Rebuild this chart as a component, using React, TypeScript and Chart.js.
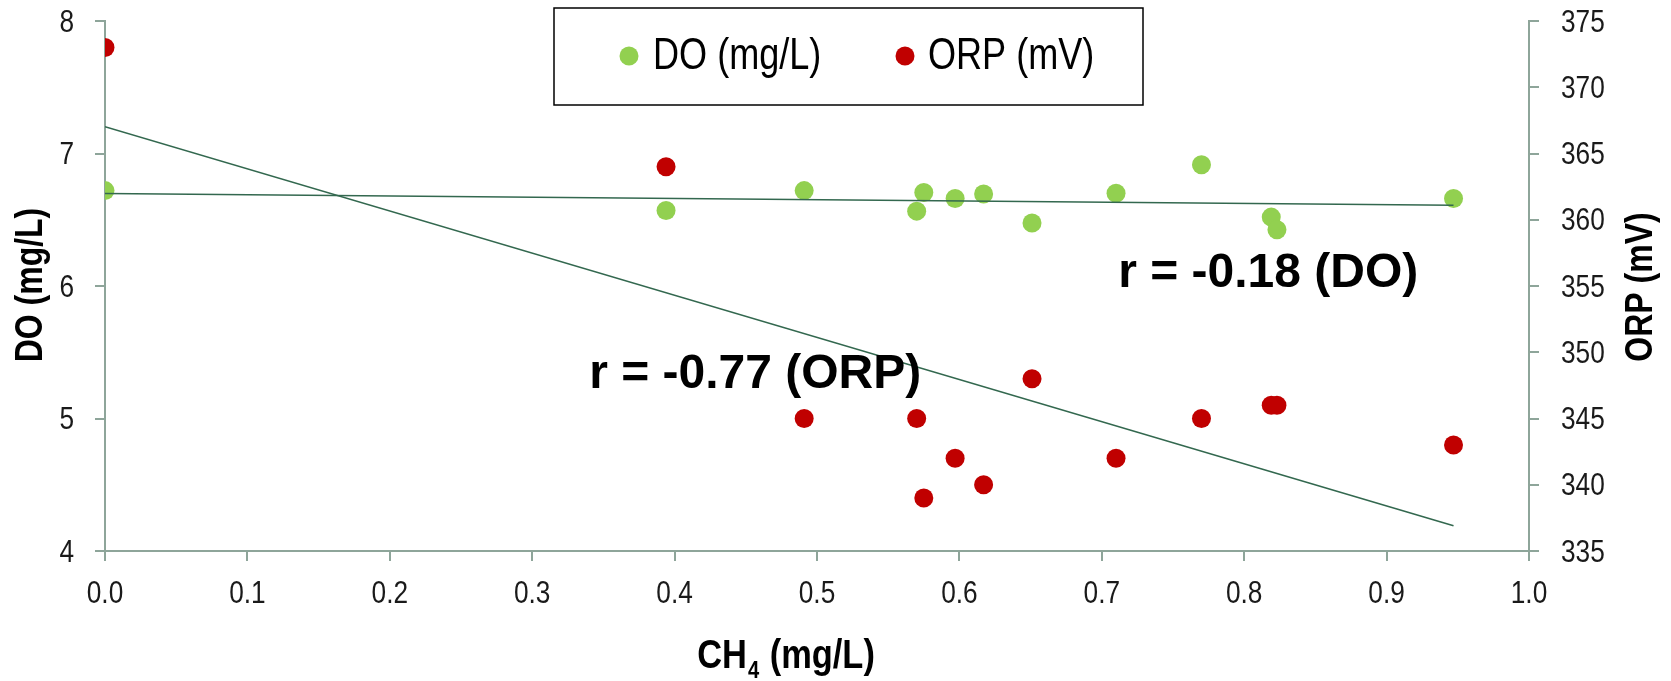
import React, { useEffect, useRef } from 'react';
import { Chart, registerables } from 'chart.js';

Chart.register(...registerables);

// ---- data ----
const ch4 = [0, 0.394, 0.491, 0.57, 0.575, 0.597, 0.617, 0.651, 0.71, 0.77, 0.819, 0.823, 0.947];
const doValues = [6.72, 6.57, 6.72, 6.565, 6.705, 6.66, 6.695, 6.475, 6.7, 6.915, 6.52, 6.425, 6.66];
const orpValues = [373, 364, 345, 345, 339, 342, 340, 348, 342, 345, 346, 346, 343];

const xTickValues = [0, 0.1, 0.2, 0.3, 0.4, 0.5, 0.6, 0.7, 0.8, 0.9, 1.0];
const doTickValues = [4, 5, 6, 7, 8];
const orpTickValues = [335, 340, 345, 350, 355, 360, 365, 370, 375];

const seriesNames = ['DO (mg/L)', 'ORP (mV)'];
const rLabels = ['r = -0.77 (ORP)', 'r = -0.18 (DO)'];

// ---- styles ----
const GREEN = '#92D050';
const RED = '#C00000';
const TREND = '#33684F';
const AXIS = '#8EA59A';
const ARIAL = "'Liberation Sans', Arial, sans-serif";
const NARROW_X = 0.82; // horizontal compression to imitate a narrow face

function linreg(xs: number[], ys: number[]) {
  const n = xs.length;
  const mx = xs.reduce((a, b) => a + b, 0) / n;
  const my = ys.reduce((a, b) => a + b, 0) / n;
  let sxy = 0;
  let sxx = 0;
  for (let i = 0; i < n; i++) {
    sxy += (xs[i] - mx) * (ys[i] - my);
    sxx += (xs[i] - mx) * (xs[i] - mx);
  }
  const slope = sxy / sxx;
  const icpt = my - slope * mx;
  const x0 = Math.min(...xs);
  const x1 = Math.max(...xs);
  return [
    { x: x0, y: icpt + slope * x0 },
    { x: x1, y: icpt + slope * x1 },
  ];
}

function narrowText(
  ctx: CanvasRenderingContext2D,
  text: string,
  x: number,
  y: number,
  align: CanvasTextAlign,
  rotate = 0,
  sx = NARROW_X
) {
  ctx.save();
  ctx.translate(x, y);
  if (rotate) ctx.rotate(rotate);
  ctx.scale(sx, 1);
  ctx.textAlign = align;
  ctx.fillText(text, 0, 0);
  ctx.restore();
}

const overlayPlugin = {
  id: 'overlay',
  afterDraw(chart: any) {
    const ctx = chart.ctx as CanvasRenderingContext2D;
    const xs = chart.scales.x;
    const ys = chart.scales.y;
    const ys2 = chart.scales.y2;
    const area = chart.chartArea;
    ctx.save();
    ctx.fillStyle = '#1a1a1a';
    ctx.textBaseline = 'alphabetic';

    // tick labels
    ctx.font = `32px ${ARIAL}`;
    xs.ticks.forEach((t: any) => {
      narrowText(ctx, Number(t.value).toFixed(1), xs.getPixelForValue(t.value), area.bottom + 52, 'center');
    });
    ys.ticks.forEach((t: any) => {
      narrowText(ctx, String(t.value), area.left - 31, ys.getPixelForValue(t.value) + 10.5, 'right');
    });
    ys2.ticks.forEach((t: any) => {
      narrowText(ctx, String(t.value), area.right + 32, ys2.getPixelForValue(t.value) + 10.5, 'left');
    });

    // legend box
    ctx.strokeStyle = '#000';
    ctx.lineWidth = 1.5;
    ctx.strokeRect(554, 8, 589, 97);
    ctx.font = `44px ${ARIAL}`;
    const items = [
      { c: GREEN, dx: 629, tx: 653, label: seriesNames[0] },
      { c: RED, dx: 905, tx: 928, label: seriesNames[1] },
    ];
    items.forEach((it) => {
      ctx.beginPath();
      ctx.fillStyle = it.c;
      ctx.arc(it.dx, 56, 9.5, 0, Math.PI * 2);
      ctx.fill();
      ctx.fillStyle = '#000';
      narrowText(ctx, it.label, it.tx, 69, 'left');
    });

    // y axis titles
    ctx.fillStyle = '#000';
    ctx.font = `bold 39px ${ARIAL}`;
    ctx.textBaseline = 'middle';
    narrowText(ctx, 'DO (mg/L)', 31, 285, 'center', -Math.PI / 2);
    narrowText(ctx, 'ORP (mV)', 1641, 287, 'center', -Math.PI / 2);

    // x axis title with subscript
    ctx.textBaseline = 'alphabetic';
    const mainFont = `bold 41px ${ARIAL}`;
    const subFont = `bold 24px ${ARIAL}`;
    const sx = 0.84;
    ctx.font = mainFont;
    const w1 = ctx.measureText('CH').width * sx;
    const w3 = ctx.measureText(' (mg/L)').width * sx;
    ctx.font = subFont;
    const w2 = ctx.measureText('4').width * sx;
    const total = w1 + w2 + 2 + w3;
    let x = 786 - total / 2;
    const base = 668;
    ctx.font = mainFont;
    narrowText(ctx, 'CH', x, base, 'left', 0, sx);
    x += w1 + 1;
    ctx.font = subFont;
    narrowText(ctx, '4', x, base + 10, 'left', 0, sx);
    x += w2 + 1;
    ctx.font = mainFont;
    narrowText(ctx, ' (mg/L)', x, base, 'left', 0, sx);

    // correlation annotations
    ctx.font = `bold 48px ${ARIAL}`;
    ctx.textAlign = 'left';
    ctx.fillText(rLabels[0], xs.getPixelForValue(0.34), ys.getPixelForValue(5.23));
    ctx.fillText(rLabels[1], xs.getPixelForValue(0.7115), ys.getPixelForValue(5.994));

    ctx.restore();
  },
};

export default function App() {
  const ref = useRef<HTMLCanvasElement | null>(null);

  useEffect(() => {
    if (!ref.current) return;
    const doPts = ch4.map((x, i) => ({ x, y: doValues[i] }));
    const orpPts = ch4.map((x, i) => ({ x, y: orpValues[i] }));
    const gridOpts = { drawOnChartArea: false, drawTicks: true, tickLength: 10, color: AXIS, lineWidth: 2 };
    const borderOpts = { display: true, color: AXIS, width: 2 };

    const chart = new Chart(ref.current, {
      type: 'scatter',
      data: {
        datasets: [
          {
            type: 'line',
            label: 'DO trend',
            data: linreg(ch4, doValues),
            yAxisID: 'y',
            borderColor: TREND,
            borderWidth: 1.6,
            pointRadius: 0,
            fill: false,
            order: 0,
          } as any,
          {
            type: 'line',
            label: 'ORP trend',
            data: linreg(ch4, orpValues),
            yAxisID: 'y2',
            borderColor: TREND,
            borderWidth: 1.6,
            pointRadius: 0,
            fill: false,
            order: 0,
          } as any,
          {
            label: seriesNames[0],
            data: doPts,
            yAxisID: 'y',
            backgroundColor: GREEN,
            borderWidth: 0,
            pointRadius: 9.5,
            order: 1,
          },
          {
            label: seriesNames[1],
            data: orpPts,
            yAxisID: 'y2',
            backgroundColor: RED,
            borderWidth: 0,
            pointRadius: 9.5,
            order: 1,
          },
        ],
      },
      options: {
        animation: false,
        responsive: false,
        maintainAspectRatio: false,
        layout: { padding: { top: 21, left: 0, right: 0, bottom: 0 }, autoPadding: false },
        plugins: {
          legend: { display: false },
          tooltip: { enabled: false },
        },
        scales: {
          x: {
            type: 'linear',
            min: 0,
            max: 1,
            afterBuildTicks: (s: any) => {
              s.ticks = xTickValues.map((value) => ({ value }));
            },
            afterFit: (s: any) => {
              s.height = 130;
            },
            ticks: { display: false },
            grid: gridOpts,
            border: borderOpts,
          },
          y: {
            type: 'linear',
            position: 'left',
            min: 4,
            max: 8,
            afterBuildTicks: (s: any) => {
              s.ticks = doTickValues.map((value) => ({ value }));
            },
            afterFit: (s: any) => {
              s.width = 105;
            },
            ticks: { display: false },
            grid: gridOpts,
            border: borderOpts,
          },
          y2: {
            type: 'linear',
            position: 'right',
            min: 335,
            max: 375,
            afterBuildTicks: (s: any) => {
              s.ticks = orpTickValues.map((value) => ({ value }));
            },
            afterFit: (s: any) => {
              s.width = 142;
            },
            ticks: { display: false },
            grid: gridOpts,
            border: borderOpts,
          },
        },
      },
      plugins: [overlayPlugin],
    });

    return () => {
      chart.destroy();
    };
  }, []);

  return (
    <div style={{ position: 'fixed', left: 0, top: 0, width: 1671, height: 681, background: '#fff' }}>
      <canvas ref={ref} width={1671} height={681} style={{ display: 'block', width: 1671, height: 681 }} />
    </div>
  );
}
